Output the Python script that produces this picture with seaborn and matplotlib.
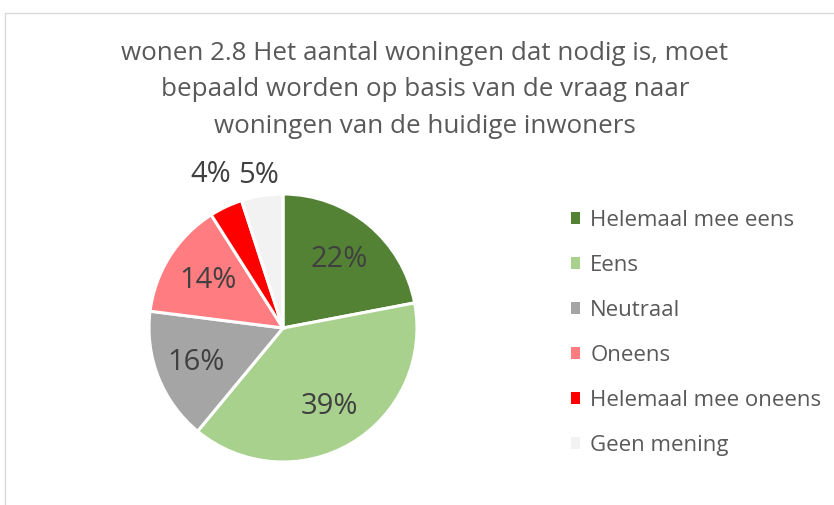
import numpy as np
import matplotlib
matplotlib.use("Agg")
import matplotlib.pyplot as plt
import seaborn as sns
from matplotlib.patches import Rectangle

sns.set_theme(style="white")
plt.rcParams['font.family'] = ['Open Sans', 'DejaVu Sans']

categories = ["Helemaal mee eens", "Eens", "Neutraal", "Oneens", "Helemaal mee oneens", "Geen mening"]
values = [22, 39, 16, 14, 4, 5]
colors = ["#548235", "#A9D18E", "#A5A5A5", "#FF7C80", "#FF0000", "#F2F2F2"]
title = "wonen 2.8 Het aantal woningen dat nodig is, moet\nbepaald worden op basis van de vraag naar\nwoningen van de huidige inwoners"

W, H = 834, 505
fig = plt.figure(figsize=(W / 100, H / 100), dpi=100)

# chart border
fig.patches.append(Rectangle((5 / W, -0.1), 1.2, (H - 13) / H + 0.1, transform=fig.transFigure,
                             fill=False, edgecolor="#D9D9D9", linewidth=1))

fig.text(425 / W, 1 - 90 / H, title, ha="center", va="center", fontsize=18.7,
         color="#595959", linespacing=1.62)

cx, cy, r = 283, 328, 134
ax = fig.add_axes([(cx - r) / W, (H - cy - r) / H, 2 * r / W, 2 * r / H])
wedges, texts = ax.pie(values, colors=colors, startangle=90, counterclock=False,
                       radius=1, wedgeprops=dict(edgecolor="white", linewidth=2.2))
ax.set_xlim(-1, 1)
ax.set_ylim(-1, 1)
ax.set_aspect("auto")
ax.axis("off")

dists = [0.66, 0.68, 0.70, 0.66, 1.27, 1.15]
for w, v, d in zip(wedges, values, dists):
    ang = np.deg2rad((w.theta1 + w.theta2) / 2)
    ax.text(d * np.cos(ang), d * np.sin(ang), f"{v}%", ha="center", va="center",
            fontsize=21, color="#404040", clip_on=False)

# legend
handles = [Rectangle((0, 0), 1, 1, facecolor=c, edgecolor="none") for c in colors]
leg = fig.legend(handles, categories, loc="upper left", bbox_to_anchor=(551 / W, 1 - 190 / H),
                 frameon=False, fontsize=16, labelcolor="#595959", handlelength=0.42,
                 handleheight=0.42, handletextpad=0.45, labelspacing=1.08)

fig.savefig("out.png", dpi=100, facecolor="white")
